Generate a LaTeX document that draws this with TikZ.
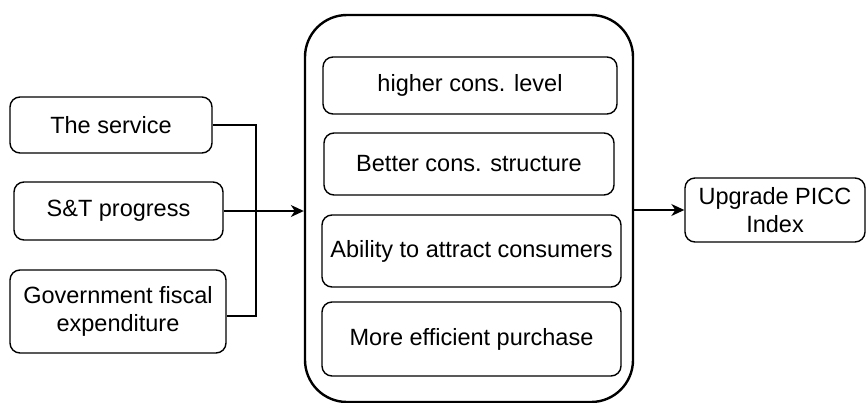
\documentclass[tikz,border=0pt]{standalone}
\usepackage{fontspec}
\setmainfont{Liberation Sans}
\usetikzlibrary{arrows.meta}
\begin{document}
\begin{tikzpicture}[x=1pt,y=-1pt,
  box/.style={draw=black,line width=1.4pt,rounded corners=10pt,inner sep=0pt,
    align=center,font=\fontsize{23.5}{28}\selectfont},
  container/.style={draw=black,line width=2.4pt,rounded corners=42pt,inner sep=0pt},
  link/.style={draw=black,line width=1.4pt},
  arrowlink/.style={link,-{Stealth[length=13pt,width=12pt,inset=4pt]}}]
\useasboundingbox (0,0) rectangle (866,402);
% outer group of consumption factors
\node[container,minimum width=328pt,minimum height=387pt] (group) at (469,208.5) {};
% inputs on the left
\node[box,minimum width=202pt,minimum height=56pt] (service) at (111,125) {The service};
\node[box,minimum width=209pt,minimum height=58pt] (st) at (118.5,211) {S\&T progress};
\node[box,minimum width=216pt,minimum height=83pt] (gov) at (118,311.5) {Government fiscal\\expenditure};
% factors inside the group
\node[box,minimum width=294pt,minimum height=57pt] (level) at (470,85.5) {higher cons. level};
\node[box,minimum width=290pt,minimum height=62pt] (structure) at (469,164) {Better cons. structure};
\node[box,minimum width=299pt,minimum height=72pt] (attract) at (471.5,251) {Ability to attract consumers};
\node[box,minimum width=299pt,minimum height=74pt] (purchase) at (471.5,339) {More efficient purchase};
% result
\node[box,minimum width=180pt,minimum height=64pt] (picc) at (775,210) {Upgrade PICC\\Index};
% collector line joining the inputs
\coordinate (jtop) at (256,125);
\coordinate (jbot) at (256,316);
\draw[link] (service.east) -- (jtop) -- (jbot) -- (gov.east |- jbot);
\draw[arrowlink] (st.east) -- (group.west |- st.east);
\draw[arrowlink] (group.east |- picc.west) -- (picc.west);
\end{tikzpicture}
\end{document}
